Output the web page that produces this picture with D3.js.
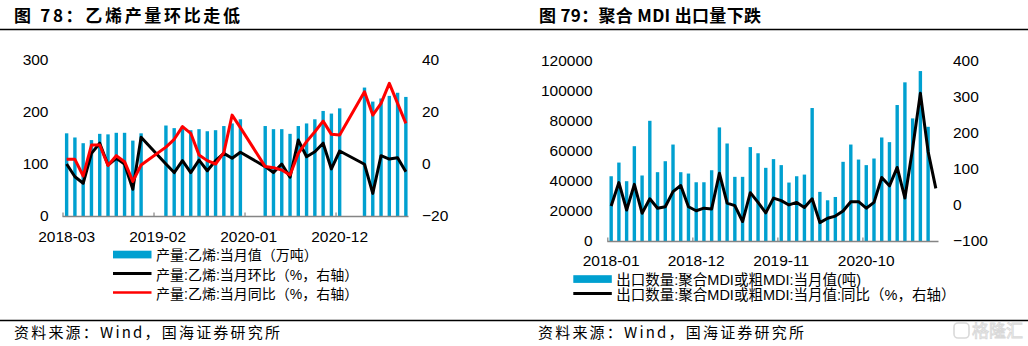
<!DOCTYPE html>
<html><head><meta charset="utf-8">
<script src="https://cdn.jsdelivr.net/npm/d3@7"></script>
<style>body{margin:0;background:#fff}svg{display:block}</style>
</head><body>
<svg id="c" width="1028" height="346"></svg>
<script>
// ---------- DATA ----------
const leftCats = ["2018-03","2018-04","2018-05","2018-06","2018-07","2018-08","2018-09","2018-10","2018-11","2018-12",
  "2019-01","2019-02","2019-03","2019-04","2019-05","2019-06","2019-07","2019-08","2019-09","2019-10","2019-11","2019-12",
  "2020-01","2020-02","2020-03","2020-04","2020-05","2020-06","2020-07","2020-08","2020-09","2020-10","2020-11","2020-12",
  "2021-01","2021-02","2021-03","2021-04","2021-05","2021-06","2021-07","2021-08"];
const ethyleneOutput = [159,151,140,146,158,157,160,160,145,159, null,null,
  174,169,173,165,167,163,165,173,178,186, null,null,
  173,167,167,158,173,178,186,202,197,207, null,null,
  247,220,226,231,237,229];
const ethyleneMoM = [0,-4.9,-7.4,4.1,8.0,-0.4,2.2,0,-9.7,10.3, null,null,
  0,-3.3,1.3,-3.3,1.5,-2.6,1.3,4.1,2.2,4.5, null,null,
  -1.0,-3.3,0,-5.1,9.2,2.8,4.7,8.0,-1.9,5.0, null,null,
  -0.1,-11.3,3.2,1.9,2.4,-3.0];
const ethyleneYoY = [1.8,1.8,-4.6,7.3,7.3,-0.6,3.2,0.9,-6.7,-0.4, null,null,
  6.5,9.5,14.4,11.8,3.5,1.3,0,4.4,18.8,14, null,null,
  -1.0,-1.4,-2.3,-4.2,4.1,8.6,12.4,16.5,11.4,11.2, null,null,
  27.8,18.8,23.3,31,23.3,15.6];
const leftLTicks = [0,100,200,300];
const leftRTicks = [-20,0,20,40];
const leftXLabels = ["2018-03","2019-02","2020-01","2020-12"];

const rightCats = ["2018-01","2018-02","2018-03","2018-04","2018-05","2018-06","2018-07","2018-08","2018-09","2018-10","2018-11","2018-12",
  "2019-01","2019-02","2019-03","2019-04","2019-05","2019-06","2019-07","2019-08","2019-09","2019-10","2019-11","2019-12",
  "2020-01","2020-02","2020-03","2020-04","2020-05","2020-06","2020-07","2020-08","2020-09","2020-10","2020-11","2020-12",
  "2021-01","2021-02","2021-03","2021-04","2021-05","2021-06","2021-07"];
const mdiExport = [43100,52200,39800,63100,43600,80000,45800,53100,64200,45800,
  44900,39100,39100,47100,75600,64900,42700,42700,62500,58400,
  48700,54500,50500,38900,43100,44200,88500,32700,27100,29300,
  52700,64200,54200,50500,54900,68900,65800,90500,105600,81600,
  113100,76000,null];
const mdiYoY = [-3,62,-14,57,-23,17,-9,-5,37,54,
  -5,-16,-9,-11,88,5,-2,-46,34,7,
  -22,19,12,0,7,-7,17,-49,-37,-31,
  -17,9,9,-9,7,76,53,104,19,157,
  310,148,46];
const rightLTicks = [0,20000,40000,60000,80000,100000,120000];
const rightRTicks = [-100,0,100,200,300,400];
const rightXLabels = ["2018-01","2018-12","2019-11","2020-10"];

// ---------- DRAW ----------
const svg = d3.select("#c");
const FONT = "'Liberation Sans', Arial, 'Noto Sans CJK SC', sans-serif";
const CJK = "'Noto Sans CJK SC', sans-serif";
const BLUE = "#00A0D0";

svg.append("rect").attr("width",1028).attr("height",346).attr("fill","#fff");
[29.5, 320.5].forEach(y => svg.append("line").attr("x1",0).attr("x2",1028)
  .attr("y1",y).attr("y2",y).attr("stroke","#000").attr("stroke-width",1.5));

function title(x, txt, len){
  svg.append("text").attr("x",x).attr("y",21.5).text(txt)
    .attr("font-family",CJK).attr("font-weight",700).attr("font-size",17)
    .attr("textLength",len).attr("lengthAdjust","spacing").attr("fill","#000");
}
title(14, "图 78：乙烯产量环比走低", 226);
title(539, "图 79：聚合 MDI 出口量下跌", 222);

function footer(x){
  svg.append("text").attr("x",x).attr("y",338).text("资料来源：Wind，国海证券研究所")
    .attr("font-family",CJK).attr("font-size",15).attr("fill","#000")
    .attr("textLength",266).attr("lengthAdjust","spacing");
}
footer(14); footer(538);

function chart(o){
  const g = svg.append("g");
  const xs = d3.scaleBand().domain(o.cats).range(o.xRange).padding(0);
  const bw = xs.bandwidth();
  const yL = d3.scaleLinear().domain(o.lDomain).range([o.yBot, o.yTop]);
  const yR = d3.scaleLinear().domain(o.rDomain).range([o.yBot, o.yTop]);
  const barW = 3.4;
  // bars
  g.selectAll("rect.bar").data(o.cats.map((c,i)=>({c, v:o.bars[i]})).filter(d=>d.v!=null))
    .join("rect").attr("class","bar")
    .attr("x", d=>xs(d.c)+bw/2-barW/2).attr("width",barW)
    .attr("y", d=>yL(d.v)).attr("height", d=>yL(o.lDomain[0])-yL(d.v))
    .attr("fill",BLUE);
  // x axis
  g.append("line").attr("x1",o.xRange[0]).attr("x2",o.axisEnd)
    .attr("y1",o.yBot+0.5).attr("y2",o.yBot+0.5).attr("stroke","#858585").attr("stroke-width",1.5);
  g.selectAll("line.tk").data(o.xLabels).join("line").attr("class","tk")
    .attr("x1",d=>xs(d)+0.5).attr("x2",d=>xs(d)+0.5)
    .attr("y1",o.yBot+0.5).attr("y2",o.yBot-3.5).attr("stroke","#858585").attr("stroke-width",1.2);
  g.selectAll("text.xl").data(o.xLabels).join("text").attr("class","xl")
    .attr("x",d=>xs(d)+bw/2).attr("y",o.xLabelY).attr("text-anchor","middle")
    .attr("font-family",FONT).attr("font-size",15.5).attr("fill","#000").text(d=>d);
  // y axes
  const la = g.append("g").attr("transform",`translate(${o.lAxisX},0)`)
    .call(d3.axisLeft(yL).tickValues(o.lTicks).tickSize(0).tickPadding(0).tickFormat(d3.format("d")));
  const ra = g.append("g").attr("transform",`translate(${o.rAxisX},0)`)
    .call(d3.axisRight(yR).tickValues(o.rTicks).tickSize(0).tickPadding(0).tickFormat(d3.format("d")));
  [la,ra].forEach(a=>{ a.select(".domain").remove();
    a.selectAll("text").attr("font-family",FONT).attr("font-size",15.5).attr("fill","#000"); });
  // lines
  o.lines.forEach(L=>{
    const pts = o.cats.map((c,i)=>({c, v:L.vals[i]})).filter(d=>d.v!=null);
    g.append("path").datum(pts)
      .attr("d", d3.line().x(d=>xs(d.c)+bw/2).y(d=>yR(d.v)))
      .attr("fill","none").attr("stroke",L.color).attr("stroke-width",L.w)
      .attr("stroke-linejoin","round");
  });
}

chart({cats:leftCats, bars:ethyleneOutput,
  lines:[{vals:ethyleneMoM,color:"#000",w:3},{vals:ethyleneYoY,color:"#FF0000",w:3}],
  xRange:[62.5,410], axisEnd:408.5, yTop:60, yBot:216, lDomain:[0,300], rDomain:[-20,40],
  lTicks:leftLTicks, rTicks:leftRTicks, lAxisX:48.5, rAxisX:422,
  xLabels:leftXLabels, xLabelY:242});

chart({cats:rightCats, bars:mdiExport,
  lines:[{vals:mdiYoY,color:"#000",w:3}],
  xRange:[607.3,939.7], axisEnd:938.5, yTop:60.7, yBot:241, lDomain:[0,120000], rDomain:[-100,400],
  lTicks:rightLTicks, rTicks:rightRTicks, lAxisX:592.7, rAxisX:953,
  xLabels:rightXLabels, xLabelY:266});

// ---------- LEGENDS ----------
function legend(items){
  items.forEach(it=>{
    if(it.type==="rect"){
      svg.append("rect").attr("x",it.x).attr("y",it.y-3.8).attr("width",38.5).attr("height",7.7).attr("fill",BLUE);
    } else {
      svg.append("line").attr("x1",it.x).attr("x2",it.x+38.5).attr("y1",it.y).attr("y2",it.y)
        .attr("stroke",it.color).attr("stroke-width",it.w);
    }
    svg.append("text").attr("x",it.x+43).attr("y",it.ty).attr("dy","0.36em")
      .attr("font-family",FONT).attr("font-size",it.fs).attr("fill","#000").text(it.label);
  });
}
legend([
  {type:"rect", x:113, y:254.5, ty:254.5, fs:14, label:"产量:乙烯:当月值（万吨）"},
  {type:"line", x:113, y:273.5, ty:274.5, color:"#000", w:3.2, fs:14, label:"产量:乙烯:当月环比（%，右轴）"},
  {type:"line", x:113, y:292.5, ty:293.5, color:"#FF0000", w:2.6, fs:14, label:"产量:乙烯:当月同比（%，右轴）"}
]);
legend([
  {type:"rect", x:573.3, y:279, ty:280, fs:14.5, label:"出口数量:聚合MDI或粗MDI:当月值(吨)"},
  {type:"line", x:573.3, y:293.5, ty:294.5, color:"#000", w:3.2, fs:14.5, label:"出口数量:聚合MDI或粗MDI:当月值:同比（%，右轴）"}
]);

// watermark
const wm = svg.append("g").attr("opacity",0.55);
wm.append("rect").attr("x",954).attr("y",323).attr("width",15).attr("height",15).attr("rx",4)
  .attr("fill","none").attr("stroke","#bbb").attr("stroke-width",1.6);
wm.append("text").attr("x",972).attr("y",337).text("格隆汇").attr("font-family",CJK)
  .attr("font-size",17).attr("fill","#fafafa").attr("stroke","#bbb").attr("stroke-width",0.9);
</script>
</body></html>
